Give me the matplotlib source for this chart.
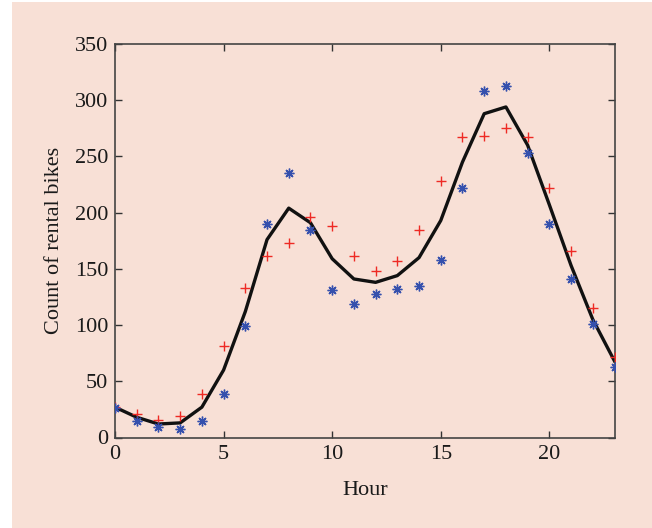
import matplotlib
matplotlib.use("Agg")
import matplotlib.pyplot as plt
from matplotlib.patches import Rectangle

hours = list(range(24))

# observed counts (blue asterisks)
observed = [26, 15, 9, 8, 15, 39, 99, 190, 235, 185, 131, 119, 128, 132,
            135, 158, 222, 308, 313, 253, 190, 141, 101, 63]
# second set of estimates (red plus signs)
estimate = [27, 21, 16, 19, 39, 81, 133, 161, 173, 196, 188, 161, 148, 157,
            185, 228, 267, 268, 275, 267, 222, 166, 115, 72]
# fitted mean curve (black line)
fitted = [27, 18, 12, 13, 27, 60, 112, 176, 204, 191, 159, 141, 138, 144,
          160, 193, 245, 288, 294, 260, 207, 153, 105, 68]

x_ticks = [0, 5, 10, 15, 20]
y_ticks = [0, 50, 100, 150, 200, 250, 300, 350]

bg = "#f8e0d6"
plt.rcParams["font.family"] = ["Liberation Serif", "DejaVu Serif"]

fig = plt.figure(figsize=(6.52, 5.28), dpi=100, facecolor="white")
fig.add_artist(Rectangle((12 / 652, 0), 1 - 12 / 652, 526 / 528,
                         transform=fig.transFigure, facecolor=bg,
                         edgecolor="none", zorder=-5))

ax = fig.add_axes([115 / 652, 1 - 437.5 / 528, (614.5 - 115) / 652,
                   (437.5 - 44) / 528])
ax.set_facecolor(bg)

ax.plot(hours, fitted, color="#111111", lw=2.4, zorder=2)
ax.plot(hours, estimate, ls="none", marker="+", ms=7.5, mew=1.0,
        color="#ee2a24", zorder=3)
ax.plot(hours, observed, ls="none", marker=(8, 2, 0), ms=7, mew=1.0,
        color="#3550ad", zorder=3)

ax.set_xlim(0, 23)
ax.set_ylim(0, 350)
ax.set_xticks(x_ticks)
ax.set_yticks(y_ticks)
ax.tick_params(direction="in", length=5, width=1.0, top=True, right=True,
               labelsize=16, colors="#333333", labelcolor="#1a1a1a")
ax.tick_params(axis="y", pad=5)
ax.tick_params(axis="x", pad=5.5)
for s in ax.spines.values():
    s.set_color("#444444")
    s.set_linewidth(1.2)

ax.set_xlabel("Hour", fontsize=16, color="#1a1a1a", labelpad=12)
ax.set_ylabel("Count of rental bikes", fontsize=16, color="#1a1a1a",
              labelpad=8)

fig.savefig("out.png", dpi=100, facecolor="white")
